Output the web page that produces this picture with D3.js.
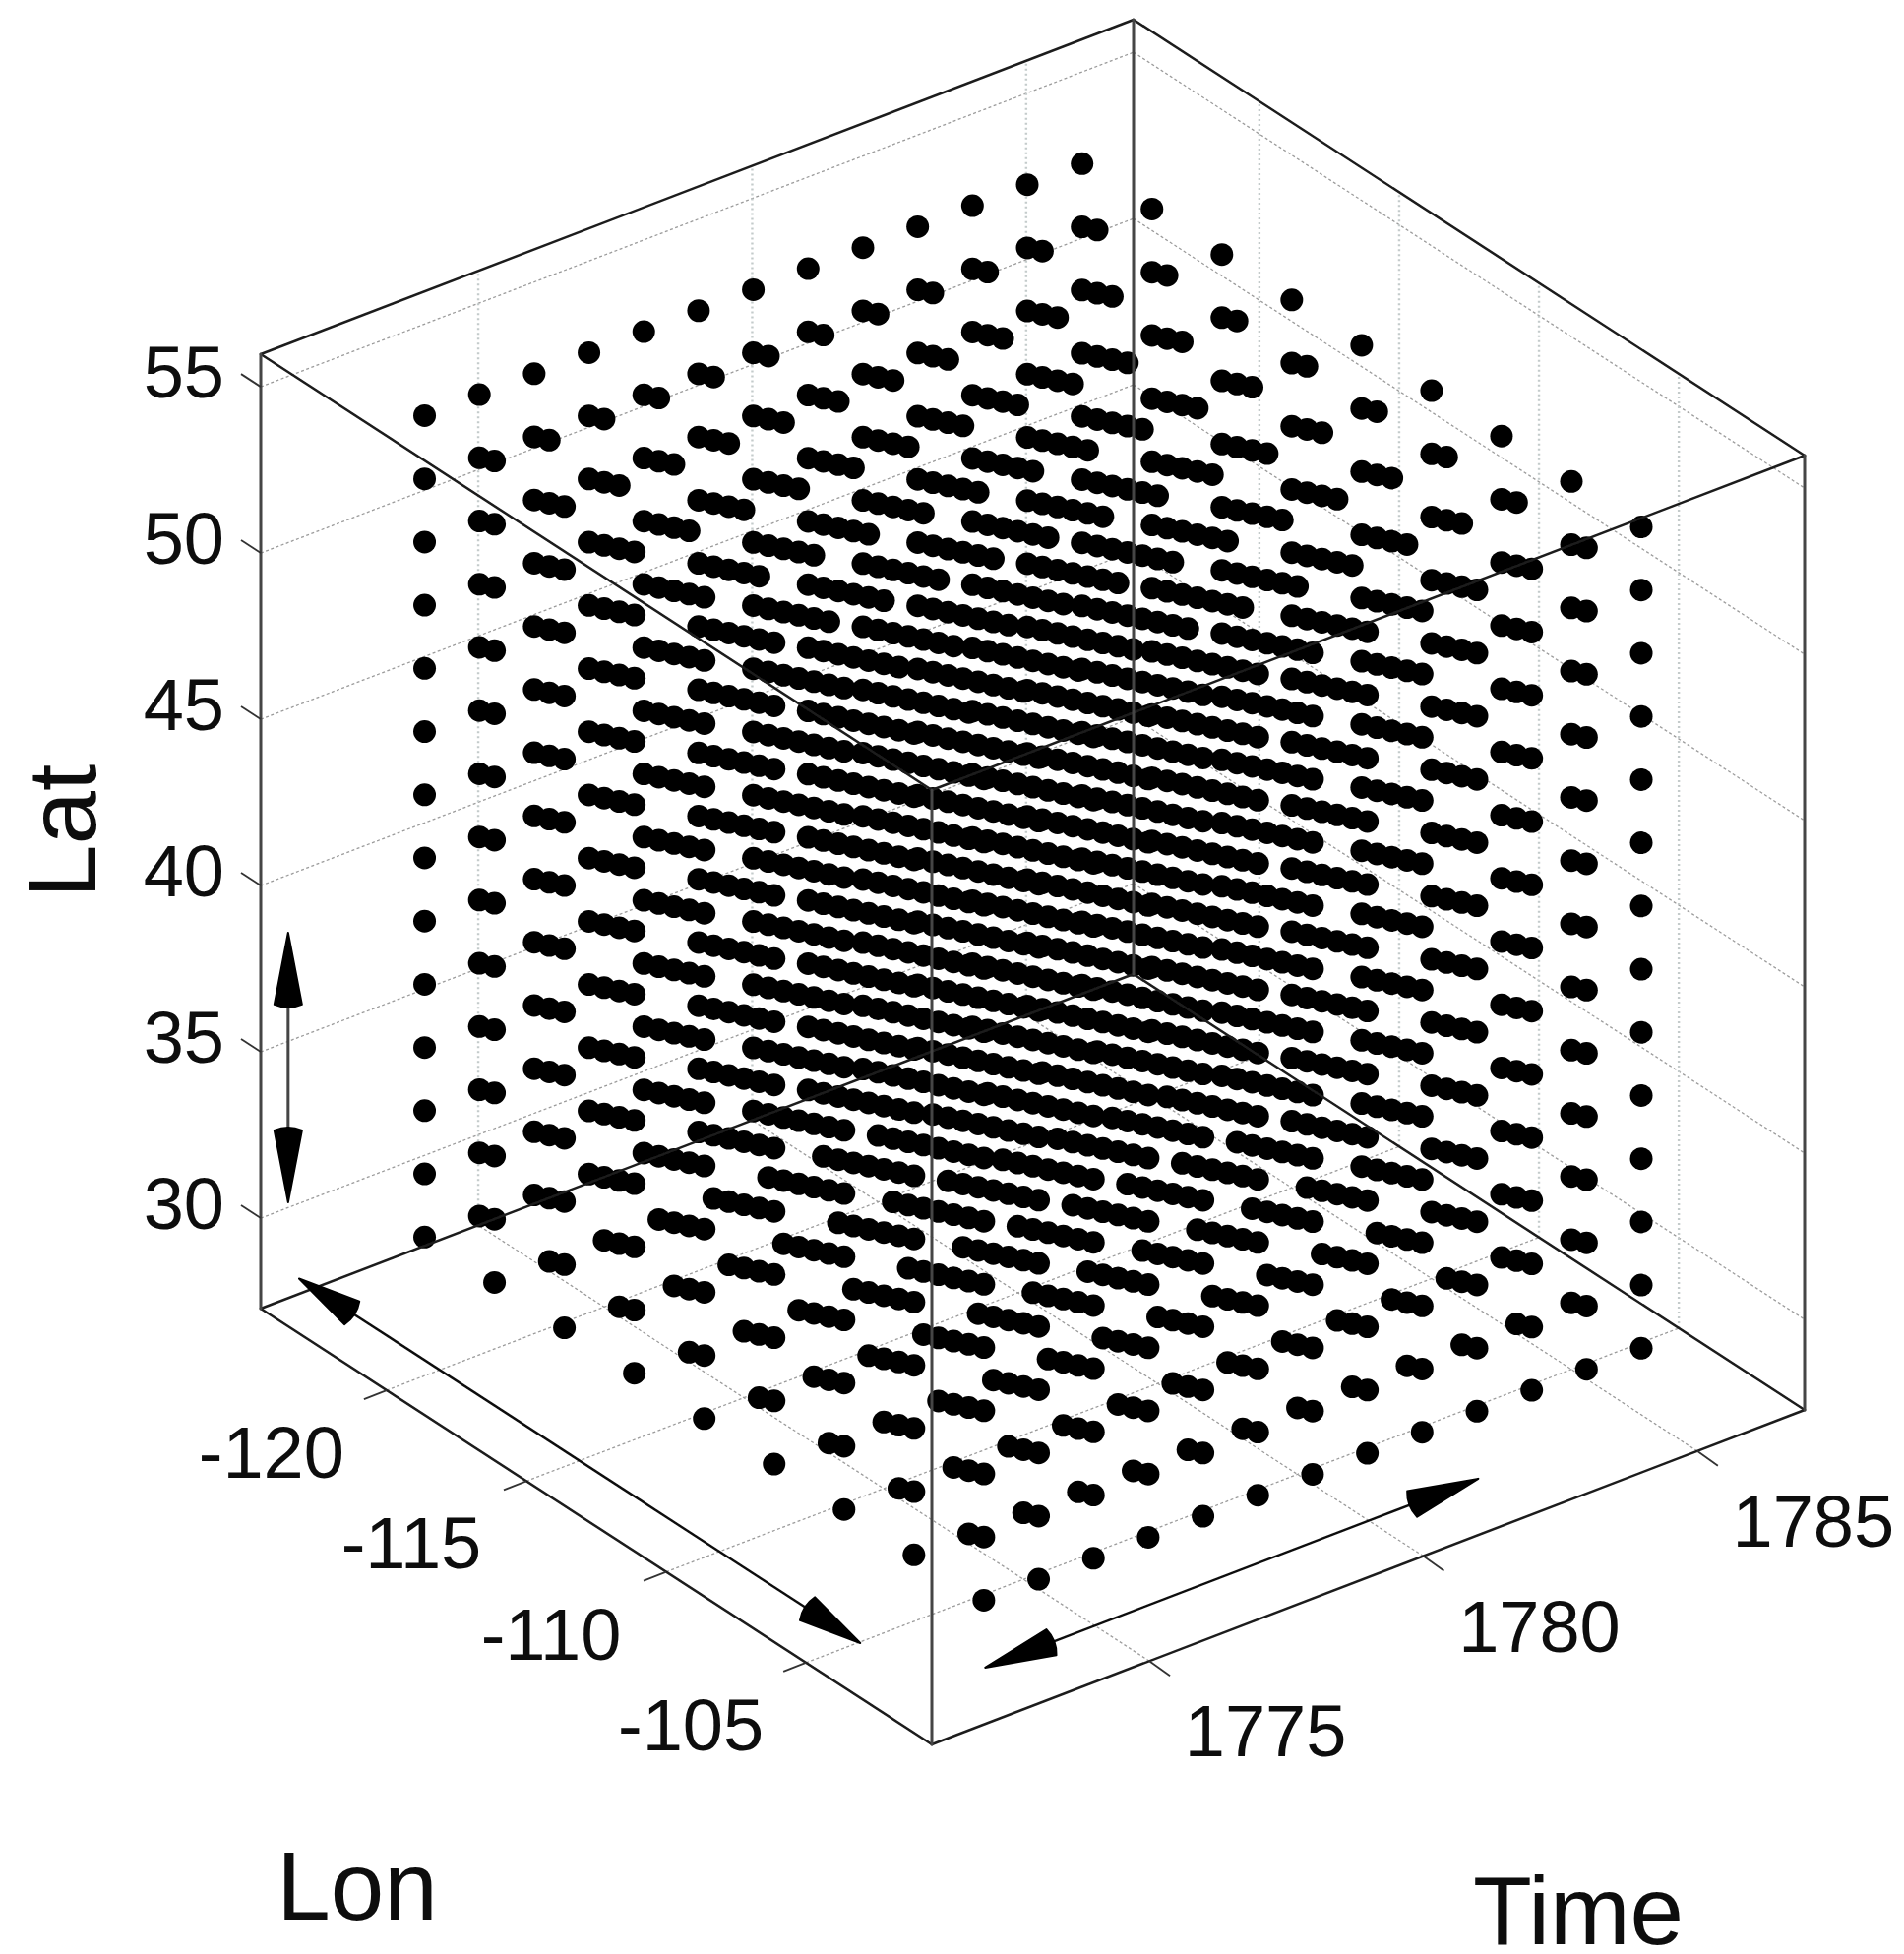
<!DOCTYPE html>
<html><head><meta charset="utf-8">
<script src="https://cdn.jsdelivr.net/npm/d3@7"></script>
<style>html,body{margin:0;padding:0;background:#fff}svg{display:block}text{font-family:"Liberation Sans",Arial,sans-serif;fill:#0a0a0a}</style>
</head><body><svg id="c" width="1935" height="1986"></svg>
<script>
// Data
const lons = [-122.5,-120,-117.5,-115,-112.5,-110,-107.5,-105,-102.5];
const lats = [29.28,31.18,33.08,34.98,36.88,38.78,40.68,42.58,44.48,46.38,48.28,50.18,52.08,53.98];
const times = [1773,1774,1775,1776,1777,1778,1779,1780,1781,1782,1783,1784,1785];
const lonTicks = [-120,-115,-110,-105];
const latTicks = [30,35,40,45,50,55];
const timeTicks = [1775,1780,1785];
const lonRange = [-124.5,-100.5];
const latRange = [27.28,55.98];
const timeRange = [1771.03,1786.96];
// arrows as [lon, lat, time] endpoints
const lonArrow = [[-125.03,27.28,1772],[-104.96,27.28,1772]];
const timeArrow = [[-102.45,27.28,1773],[-102.45,27.28,1782]];
const latArrow = [[-124.5,30.16,1771.53],[-124.5,38.27,1771.53]];

// Oblique projection built from three scales per axis
const lonX = d3.scaleLinear().domain(lonRange).range([0,682]);
const lonY = d3.scaleLinear().domain(lonRange).range([0,443]);
const timeX = d3.scaleLinear().domain(timeRange).range([0,887]);
const timeY = d3.scaleLinear().domain(timeRange).range([0,-340]);
const latY = d3.scaleLinear().domain(latRange).range([0,-970]);
const ox = 265, oy = 1330;
const P = (lon,lat,time)=>[ox+lonX(lon)+timeX(time), oy+lonY(lon)+timeY(time)+latY(lat)];

const root = d3.select("#c");
root.append("defs").append("filter").attr("id","soft")
  .attr("filterUnits","userSpaceOnUse").attr("x",0).attr("y",0).attr("width",1935).attr("height",1986)
  .append("feGaussianBlur").attr("stdDeviation",0.6);
root.append("rect").attr("width",1935).attr("height",1986).attr("fill","#fff");
const svg = root.append("g").attr("filter","url(#soft)");
const [l0,l1]=lonRange,[a0,a1]=latRange,[t0,t1]=timeRange;
const seg=(g,p,q,cls)=>g.append("line").attr("x1",p[0]).attr("y1",p[1]).attr("x2",q[0]).attr("y2",q[1]).attr("class",cls);

// Grid
const grid = svg.append("g").attr("fill","none");
function gl(p,q,kind){
  const s=seg(grid,p,q,"grid");
  if(kind==="v") s.attr("stroke","#c4cbcb").attr("stroke-width",2.4).attr("stroke-dasharray","2 3");
  else s.attr("stroke","#9c9c9c").attr("stroke-width",1.3).attr("stroke-dasharray","3 2.5");
}
latTicks.forEach(v=>{ gl(P(l0,v,t0),P(l0,v,t1)); gl(P(l0,v,t1),P(l1,v,t1)); });
timeTicks.forEach(v=>{ gl(P(l1,a0,v),P(l0,a0,v)); gl(P(l0,a0,v),P(l0,a1,v),"v"); });
lonTicks.forEach(v=>{ gl(P(v,a0,t0),P(v,a0,t1)); gl(P(v,a0,t1),P(v,a1,t1),"v"); });

// Dots
const pts = d3.cross(d3.cross(lons,times),lats).map(([[lo,ti],la])=>P(lo,la,ti));
svg.append("g").selectAll("circle").data(pts).join("circle")
  .attr("cx",d=>d[0]).attr("cy",d=>d[1]).attr("r",11.5).attr("fill","#000");

// Box
const box = svg.append("g").attr("stroke-linecap","round");
const edge=(p,q,vert)=>seg(box,p,q,"edge").attr("stroke",vert?"#444":"#1c1c1c").attr("stroke-width",vert?3:2.5);
[[a0],[a1]].forEach(([a])=>{
  edge(P(l0,a,t0),P(l1,a,t0)); edge(P(l1,a,t0),P(l1,a,t1));
  edge(P(l1,a,t1),P(l0,a,t1)); edge(P(l0,a,t1),P(l0,a,t0));
});
[[l0,t0],[l1,t0],[l1,t1],[l0,t1]].forEach(([l,t])=>edge(P(l,a0,t),P(l,a1,t),true));

// Ticks and labels
const tk = svg.append("g").attr("stroke","#333").attr("stroke-width",1.8);
const lbl = svg.append("g").attr("font-size",74);
latTicks.forEach(v=>{
  const p=P(l0,v,t0); seg(tk,p,[p[0]-20,p[1]-13],"tick");
  lbl.append("text").attr("x",p[0]-37).attr("y",p[1]+11).attr("text-anchor","end").text(v);
});
lonTicks.forEach(v=>{
  const p=P(v,a0,t0); seg(tk,p,[p[0]-23,p[1]+9],"tick");
  lbl.append("text").attr("x",p[0]-117).attr("y",p[1]+89).attr("text-anchor","middle").text(v);
});
timeTicks.forEach(v=>{
  const p=P(l1,a0,v); seg(tk,p,[p[0]+21,p[1]+15],"tick");
  lbl.append("text").attr("x",p[0]+118).attr("y",p[1]+97).attr("text-anchor","middle").text(v);
});

// Axis titles
const ttl = svg.append("g").attr("font-size",98);
ttl.append("text").attr("x",363).attr("y",1951).attr("text-anchor","middle").text("Lon");
ttl.append("text").attr("x",1604).attr("y",1976).attr("text-anchor","middle").text("Time");
ttl.append("text").attr("transform","translate(97,845) rotate(-90)").attr("text-anchor","middle").text("Lat");

// Double-headed arrows
const arrows = svg.append("g");
function arrow(ends,headLen,half,w,col){
  const [a,b]=ends.map(e=>P(e[0],e[1],e[2]));
  const ang=Math.atan2(b[1]-a[1],b[0]-a[0]), deg=ang*180/Math.PI;
  const ux=Math.cos(ang),uy=Math.sin(ang);
  seg(arrows,[a[0]+ux*headLen*0.9,a[1]+uy*headLen*0.9],[b[0]-ux*headLen*0.9,b[1]-uy*headLen*0.9],"shaft")
    .attr("stroke",col).attr("stroke-width",w);
  const head=`M0,0 L${-headLen},${-half} Q${-headLen-6},0 ${-headLen},${half} Z`;
  [[b,deg],[a,deg+180]].forEach(([p,r])=>arrows.append("path").attr("d",head).attr("fill","#000").attr("stroke","#000")
    .attr("stroke-width",2).attr("stroke-linejoin","round")
    .attr("transform",`translate(${p[0]},${p[1]}) rotate(${r})`));
}
arrow(lonArrow,64,14,2.4,"#111");
arrow(timeArrow,72,14,2.4,"#111");
arrow(latArrow,73,14,3,"#444");
</script></body></html>
